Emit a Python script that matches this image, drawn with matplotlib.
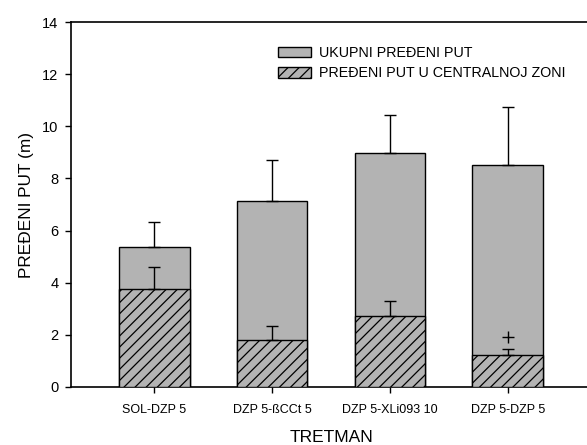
import numpy as np
import matplotlib
matplotlib.use("Agg")
from matplotlib import pyplot as plt
from matplotlib.patches import Patch

plt.rcParams['font.family'] = ['Liberation Sans', 'DejaVu Sans']
plt.rcParams['hatch.linewidth'] = 0.9

groups = ["SOL-DZP 5", "DZP 5-ßCCt 5", "DZP 5-XLi093 10", "DZP 5-DZP 5"]
total = [5.37, 7.13, 8.97, 8.50]
total_err = [0.96, 1.56, 1.45, 2.25]
central = [3.75, 1.80, 2.72, 1.22]
central_err = [0.87, 0.54, 0.57, 0.23]
marker_y = [None, None, None, 1.90]  # "+" significance mark

gray = "#b3b3b3"
x = np.arange(len(groups))

fig = plt.figure(figsize=(5.87, 4.45), dpi=100)
ax = fig.add_axes([71/587, 58/445, 520/587, 365/445])

ax.bar(x, total, width=0.6, color=gray, edgecolor="black", linewidth=1.0, zorder=2)
ax.errorbar(x, total, yerr=[np.zeros(4), total_err], fmt="none", ecolor="black",
            elinewidth=1.0, capsize=4.5, capthick=1.0, zorder=3)
ax.bar(x, central, width=0.6, color=gray, edgecolor="black", linewidth=1.0,
       hatch="///", zorder=4)
ax.errorbar(x, central, yerr=[np.zeros(4), central_err], fmt="none", ecolor="black",
            elinewidth=1.0, capsize=4.5, capthick=1.0, zorder=5)
for xi, m in zip(x, marker_y):
    if m is not None:
        ax.plot(xi, m, marker="+", color="black", markersize=9, mew=1.0, zorder=6)

ax.set_xlim(-0.705, 3.705)
ax.set_ylim(0, 14)
ax.set_yticks(range(0, 15, 2))
ax.set_xticks(x)
ax.set_xticklabels(groups, fontsize=9)
ax.tick_params(axis="y", labelsize=10.5, direction="out", length=4, width=1.0, pad=5)
ax.tick_params(axis="x", direction="out", length=4, width=1.0, pad=8)
for s in ["left", "bottom", "top"]:
    ax.spines[s].set_linewidth(1.2)
ax.spines["right"].set_visible(False)

ax.set_xlabel("TRETMAN", fontsize=12.5, labelpad=10)
ax.set_ylabel("PREĐENI PUT (m)", fontsize=12.4, labelpad=6)

handles = [Patch(facecolor=gray, edgecolor="black", linewidth=1.0),
           Patch(facecolor=gray, edgecolor="black", linewidth=1.0, hatch="///")]
ax.legend(handles, ["UKUPNI PREĐENI PUT", "PREĐENI PUT U CENTRALNOJ ZONI"],
          loc="upper left", bbox_to_anchor=(0.388, 0.95), frameon=False,
          fontsize=10.3, handlelength=2.25, handleheight=0.8, handletextpad=0.55,
          labelspacing=0.45, borderaxespad=0)

fig.savefig("out.png", dpi=100)
